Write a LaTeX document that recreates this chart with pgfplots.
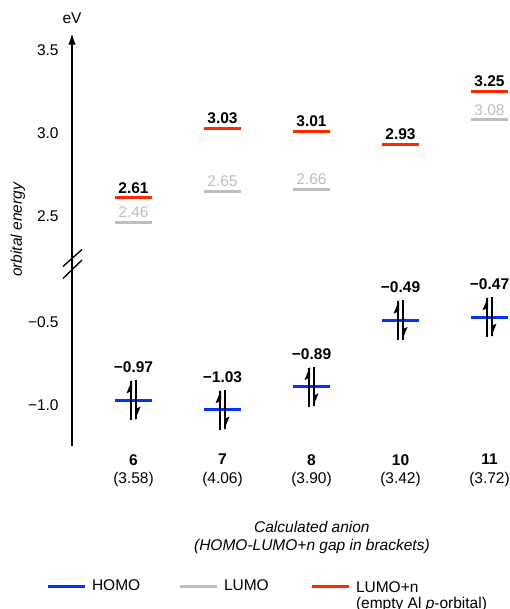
\documentclass[border=0pt]{standalone}
\usepackage{pgfplots}
\pgfplotsset{compat=1.18}
\usetikzlibrary{plotmarks,arrows.meta}
\usepackage{fontspec}
\setmainfont{Liberation Sans}
\setsansfont{Liberation Sans}
\definecolor{homo}{RGB}{0,51,255}
\definecolor{lumo}{RGB}{190,190,190}
\definecolor{lumon}{RGB}{255,40,0}
\pgfdeclareplotmark{updown}{%
  \pgfsetlinewidth{1.2pt}%
  \pgfsetbuttcap
  \pgfpathmoveto{\pgfqpoint{-1.5pt}{-12pt}}%
  \pgfpathlineto{\pgfqpoint{-1.5pt}{11.5pt}}%
  \pgfpathmoveto{\pgfqpoint{1.5pt}{-11.5pt}}%
  \pgfpathlineto{\pgfqpoint{1.5pt}{12pt}}%
  \pgfusepathqstroke
  \pgfpathmoveto{\pgfqpoint{-0.9pt}{12pt}}%
  \pgfpathlineto{\pgfqpoint{-4.2pt}{4pt}}%
  \pgfpathlineto{\pgfqpoint{-0.9pt}{5.5pt}}%
  \pgfpathclose
  \pgfpathmoveto{\pgfqpoint{0.9pt}{-12pt}}%
  \pgfpathlineto{\pgfqpoint{4.2pt}{-4pt}}%
  \pgfpathlineto{\pgfqpoint{0.9pt}{-5.5pt}}%
  \pgfpathclose
  \pgfusepathqfill
}
\begin{document}
\begin{tikzpicture}[font=\fontsize{9.3}{11.3}\selectfont]
\coordinate (U) at (43.2pt,207pt);
\coordinate (L) at (43.2pt,97.8pt);
% upper part of broken axis
\begin{axis}[
  at={(U)}, anchor=south west, scale only axis,
  width=262.2pt, height=138.6pt,
  xmin=-0.691, xmax=4.219, ymin=2.2108, ymax=3.6024,
  axis x line=none, axis y line=left,
  y axis line style={line width=1.2pt, -{Latex[length=7pt,width=4.6pt]}},
  xtick=\empty,
  ytick={2.5,3.0,3.5}, yticklabels={2.5,3.0,3.5},
  major tick length=0pt,
  yticklabel style={xshift=-4.5pt},
  ylabel={\itshape orbital energy},
  ylabel style={at={(axis description cs:-0.1236,0.147)}, anchor=center},
  title={eV}, title style={at={(axis description cs:0,1)}, anchor=center, yshift=2.6pt},
  clip=false,
]
\addplot[only marks, mark=-, mark size=11.1pt, mark options={lumo, line width=1.8pt},
  nodes near coords, point meta=explicit symbolic,
  every node near coord/.append style={text=lumo, anchor=center, yshift=6pt}]
  coordinates {(0,2.46)[2.46] (1,2.65)[2.65] (2,2.66)[2.66] (4,3.08)[3.08]};
\addplot[only marks, mark=-, mark size=11.1pt, mark options={lumon, line width=1.8pt},
  nodes near coords, point meta=explicit symbolic,
  every node near coord/.append style={text=black, font=\fontsize{9.3}{11.3}\selectfont\bfseries, anchor=center, yshift=6pt}]
  coordinates {(0,2.61)[2.61] (1,3.03)[3.03] (2,3.01)[3.01] (3,2.93)[2.93] (4,3.25)[3.25]};
\end{axis}
% lower part of broken axis
\begin{axis}[
  at={(L)}, anchor=south west, scale only axis,
  width=262.2pt, height=109.2pt,
  xmin=-0.691, xmax=4.219, ymin=-1.247, ymax=-0.1506,
  axis x line=bottom, axis y line=left,
  x axis line style={draw=none},
  y axis line style={line width=1.2pt, -},
  xtick={0,1,2,3,4},
  xticklabels={{\textbf{6}\\(3.58)},{\textbf{7}\\(4.06)},{\textbf{8}\\(3.90)},{\textbf{10}\\(3.42)},{\textbf{11}\\(3.72)}},
  xticklabel style={align=center, anchor=north, yshift=-1.4pt},
  ytick={-1,-0.5}, yticklabels={−1.0,−0.5},
  major tick length=0pt,
  yticklabel style={xshift=-4.5pt},
  xlabel={\itshape Calculated anion\\\itshape (HOMO-LUMO+n gap in brackets)},
  xlabel style={align=center, at={(axis description cs:0.549,-0.503)}, anchor=center},
  clip=false,
  legend columns=3,
  legend image code/.code={\draw[#1, line width=1.8pt] (0pt,0pt) -- (22.2pt,0pt);},
  legend style={draw=none, fill=none, inner sep=0pt, outer sep=0pt,
    at={(axis description cs:-0.0595,-0.7305)}, anchor=north west,
    nodes={inner sep=0pt},
    /tikz/every odd column/.style={column sep=3.6pt}},
  legend cell align=left,
]
\addplot[forget plot, only marks, mark=-, mark size=11.1pt, mark options={homo, line width=1.8pt},
  nodes near coords, point meta=explicit symbolic,
  every node near coord/.append style={text=black, font=\fontsize{9.3}{11.3}\selectfont\bfseries, anchor=center, yshift=19.8pt}]
  coordinates {(0,-0.97)[−0.97] (1,-1.03)[−1.03] (2,-0.89)[−0.89] (3,-0.49)[−0.49] (4,-0.47)[−0.47]};
\addplot[forget plot, only marks, mark=updown, mark options={black, fill=black, solid}]
  coordinates {(0,-0.97) (1,-1.03) (2,-0.89) (3,-0.49) (4,-0.47)};
\addlegendimage{homo}
\addlegendentry{\makebox[51.6pt][l]{HOMO}}
\addlegendimage{lumo}
\addlegendentry{\makebox[51.6pt][l]{LUMO}}
\addlegendimage{lumon}
\addlegendentry{\begin{tabular}[t]{@{}l@{}}LUMO+n\\[-1.6pt](empty Al \textit{p}-orbital)\end{tabular}}
\end{axis}
% axis break marks
\draw[line width=0.8pt] (37.8pt,205.5pt) -- (49.2pt,215.7pt);
\draw[line width=0.8pt] (37.8pt,198.3pt) -- (49.2pt,209.4pt);
\pgfresetboundingbox
\path[use as bounding box] (0pt,0pt) rectangle (305.4pt,365.4pt);
\end{tikzpicture}
\end{document}
